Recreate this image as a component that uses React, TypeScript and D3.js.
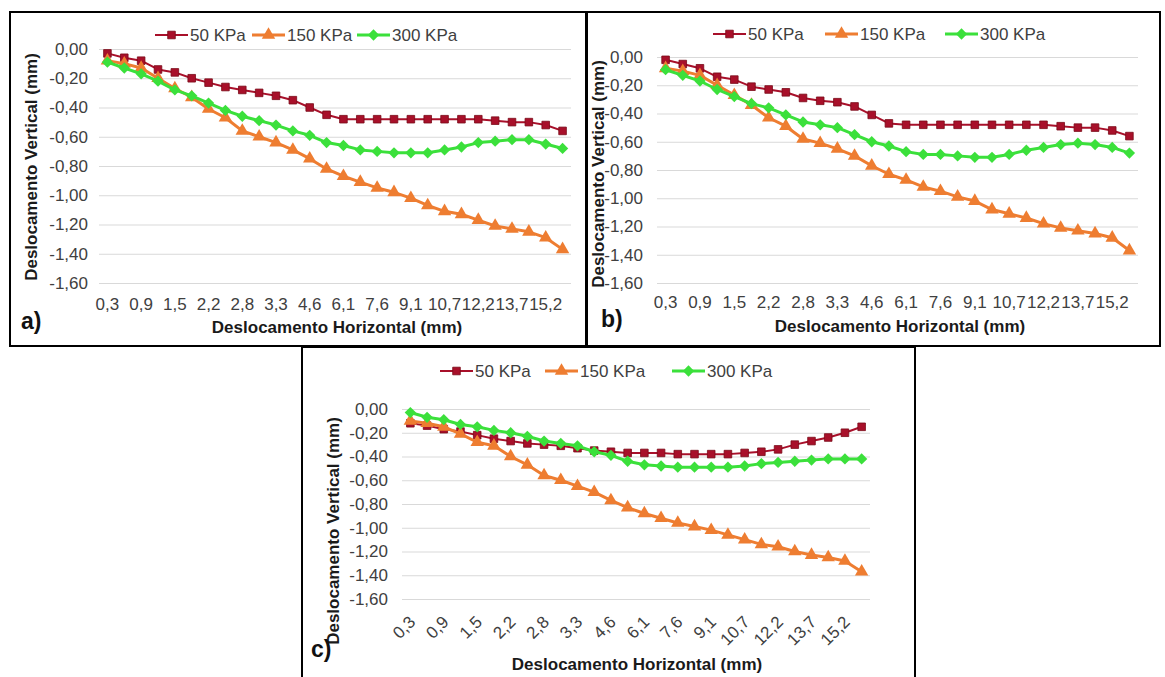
import * as d3 from "d3";
import React, { useEffect, useRef } from "react";

// horizontal displacement (mm) - excel only prints every 2nd label
const categories = [
  "0,3", "0,6", "0,9", "1,2", "1,5", "1,8", "2,2", "2,5", "2,8", "3,0",
  "3,3", "3,8", "4,6", "5,3", "6,1", "6,9", "7,6", "8,4", "9,1", "9,9",
  "10,7", "11,4", "12,2", "12,9", "13,7", "14,5", "15,2", "16,0",
];

const seriesNames = ["50 KPa", "150 KPa", "300 KPa"];
const yTicks = [0, -0.2, -0.4, -0.6, -0.8, -1.0, -1.2, -1.4, -1.6];

// panel a)
const a50 = [-0.03, -0.06, -0.08, -0.14, -0.16, -0.2, -0.23, -0.26, -0.28, -0.3, -0.32, -0.35, -0.4, -0.45, -0.48, -0.48, -0.48, -0.48, -0.48, -0.48, -0.48, -0.48, -0.48, -0.49, -0.5, -0.5, -0.52, -0.56];
const a150 = [-0.08, -0.1, -0.13, -0.2, -0.27, -0.33, -0.41, -0.47, -0.56, -0.6, -0.64, -0.69, -0.75, -0.82, -0.87, -0.91, -0.95, -0.98, -1.02, -1.07, -1.11, -1.13, -1.17, -1.21, -1.23, -1.25, -1.29, -1.37];
const a300 = [-0.09, -0.13, -0.17, -0.22, -0.28, -0.32, -0.37, -0.42, -0.46, -0.49, -0.52, -0.56, -0.59, -0.64, -0.66, -0.69, -0.7, -0.71, -0.71, -0.71, -0.69, -0.67, -0.64, -0.63, -0.62, -0.62, -0.65, -0.68];

// panel b)
const b50 = [-0.02, -0.05, -0.08, -0.14, -0.16, -0.21, -0.23, -0.25, -0.29, -0.31, -0.32, -0.35, -0.41, -0.47, -0.48, -0.48, -0.48, -0.48, -0.48, -0.48, -0.48, -0.48, -0.48, -0.49, -0.5, -0.5, -0.52, -0.56];
const b150 = [-0.08, -0.1, -0.13, -0.2, -0.27, -0.34, -0.43, -0.49, -0.58, -0.61, -0.65, -0.7, -0.77, -0.83, -0.87, -0.92, -0.95, -0.99, -1.02, -1.08, -1.11, -1.14, -1.18, -1.21, -1.23, -1.25, -1.28, -1.37];
const b300 = [-0.09, -0.13, -0.17, -0.23, -0.28, -0.33, -0.36, -0.41, -0.46, -0.48, -0.5, -0.55, -0.6, -0.63, -0.67, -0.69, -0.69, -0.7, -0.71, -0.71, -0.69, -0.66, -0.64, -0.62, -0.61, -0.62, -0.64, -0.68];

// panel c)
const c50 = [-0.12, -0.14, -0.17, -0.19, -0.22, -0.25, -0.27, -0.29, -0.3, -0.31, -0.33, -0.35, -0.36, -0.37, -0.37, -0.37, -0.38, -0.38, -0.38, -0.38, -0.37, -0.36, -0.34, -0.3, -0.27, -0.24, -0.2, -0.15];
const c150 = [-0.1, -0.12, -0.15, -0.21, -0.28, -0.31, -0.4, -0.47, -0.56, -0.6, -0.65, -0.7, -0.77, -0.83, -0.88, -0.92, -0.96, -0.99, -1.02, -1.06, -1.1, -1.14, -1.16, -1.2, -1.23, -1.25, -1.28, -1.37];
const c300 = [-0.03, -0.07, -0.09, -0.13, -0.15, -0.18, -0.2, -0.23, -0.27, -0.29, -0.31, -0.36, -0.39, -0.44, -0.47, -0.48, -0.49, -0.49, -0.49, -0.49, -0.48, -0.46, -0.45, -0.44, -0.43, -0.42, -0.42, -0.42];

const FONT = "'Liberation Sans', Arial, sans-serif";
const colors = ["#A8102A", "#EE7D31", "#3BE03B"];
const lineWidths = [2, 3, 3];

const ptBR = d3.formatLocale({ decimal: ",", thousands: ".", grouping: [3], currency: ["", ""], minus: "-" });
const fmt = ptBR.format(".2f");

// layout of the three panels (pixels)
const panels = [
  {
    tag: "a)", values: [a50, a150, a300],
    box: [10, 12, 586, 346], x0: 99, x1: 571, yTop: 49, yBottom: 283,
    yLabelRight: 88, yTitle: [31, 167], xTickPad: 15, rotate: false,
    xTitle: [337, 333], tagPos: [21, 329], legend: [155, 252, 357], legendY: 35,
  },
  {
    tag: "b)", values: [b50, b150, b300],
    box: [587, 12, 1160, 346], x0: 657, x1: 1138, yTop: 57, yBottom: 283,
    yLabelRight: 643, yTitle: [598, 174], xTickPad: 13, rotate: false,
    xTitle: [900, 332], tagPos: [601, 327], legend: [713, 825, 945], legendY: 34,
  },
  {
    tag: "c)", values: [c50, c150, c300],
    box: [302, 347, 915, 690], x0: 402, x1: 870, yTop: 409, yBottom: 599,
    yLabelRight: 388, yTitle: [333, 531], xTickPad: 0, rotate: true,
    xTitle: [637, 670], tagPos: [311, 657], legend: [440, 545, 672], legendY: 371,
  },
];

const markerPath = (k: number) => {
  if (k === 0) return d3.symbol(d3.symbolSquare, 58)();
  if (k === 1) return d3.symbol(d3.symbolTriangle, 78)();
  return d3.symbol(d3.symbolSquare, 64)();
};
const markerRot = (k: number) => (k === 2 ? 45 : 0);

function drawPanel(svg: any, P: any) {
  const g = svg.append("g");

  g.append("rect")
    .attr("x", P.box[0]).attr("y", P.box[1])
    .attr("width", P.box[2] - P.box[0]).attr("height", P.box[3] - P.box[1])
    .attr("fill", "#fff").attr("stroke", "#000").attr("stroke-width", 2);

  const x = d3.scaleBand().domain(categories).range([P.x0, P.x1]);
  const y = d3.scaleLinear().domain([-1.6, 0]).range([P.yBottom, P.yTop]);
  const cx = (c: string) => (x(c) as number) + x.bandwidth() / 2;

  // gridlines + y labels
  const yAxis = g.append("g")
    .attr("transform", `translate(${P.x0},0)`)
    .call(d3.axisLeft(y).tickValues(yTicks).tickFormat(fmt as any)
      .tickSize(-(P.x1 - P.x0)).tickPadding(P.x0 - P.yLabelRight));
  yAxis.select(".domain").remove();
  yAxis.selectAll("line").attr("stroke", "#D9D9D9").attr("stroke-width", 1);
  yAxis.selectAll("text").attr("fill", "#404040").style("font-size", "17px").style("font-family", FONT);

  // x labels, every second category
  const xAxis = g.append("g")
    .attr("transform", `translate(0,${P.yBottom})`)
    .call(d3.axisBottom(x).tickValues(categories.filter((_, i) => i % 2 === 0))
      .tickSize(0).tickPadding(P.xTickPad));
  xAxis.select(".domain").remove();
  const xt = xAxis.selectAll("text").attr("fill", "#404040").style("font-size", "17px").style("font-family", FONT);
  if (P.rotate) {
    xt.attr("x", 0).attr("y", 0).attr("dy", null)
      .attr("text-anchor", "end")
      .attr("transform", "translate(6,24) rotate(-45)");
  }

  // series: red, orange, green on top
  P.values.forEach((vals: number[], k: number) => {
    const pts = vals.map((v, i) => ({ c: categories[i], v }));
    const line = d3.line<any>().x(d => cx(d.c)).y(d => y(d.v));
    g.append("path").datum(pts)
      .attr("fill", "none").attr("stroke", colors[k])
      .attr("stroke-width", lineWidths[k]).attr("stroke-linejoin", "round")
      .attr("d", line);
    g.selectAll(".m" + k).data(pts).enter().append("path")
      .attr("class", "m" + k)
      .attr("d", markerPath(k))
      .attr("transform", (d: any) => `translate(${cx(d.c)},${y(d.v)}) rotate(${markerRot(k)})`)
      .attr("fill", colors[k])
      .attr("stroke", k === 0 ? "#7A0A18" : "none").attr("stroke-width", 0.8);
  });

  // legend
  seriesNames.forEach((name, k) => {
    const lx = P.legend[k];
    g.append("line").attr("x1", lx).attr("x2", lx + 33)
      .attr("y1", P.legendY).attr("y2", P.legendY)
      .attr("stroke", colors[k]).attr("stroke-width", lineWidths[k]);
    g.append("path").attr("d", markerPath(k))
      .attr("transform", `translate(${lx + 16.5},${P.legendY}) rotate(${markerRot(k)})`)
      .attr("fill", colors[k])
      .attr("stroke", k === 0 ? "#7A0A18" : "none").attr("stroke-width", 0.8);
    g.append("text").attr("x", lx + 35).attr("y", P.legendY + 6)
      .attr("fill", "#404040").style("font-size", "17px").style("font-family", FONT)
      .text(name);
  });

  // axis titles
  g.append("text")
    .attr("transform", `translate(${P.yTitle[0]},${P.yTitle[1]}) rotate(-90)`)
    .attr("text-anchor", "middle").attr("dy", "0.35em")
    .style("font-size", "17px").style("font-weight", "bold").style("font-family", FONT)
    .attr("fill", "#1a1a1a")
    .text("Deslocamento Vertical (mm)");
  g.append("text")
    .attr("x", P.xTitle[0]).attr("y", P.xTitle[1])
    .attr("text-anchor", "middle")
    .style("font-size", "17px").style("font-weight", "bold").style("font-family", FONT)
    .attr("fill", "#1a1a1a")
    .text("Deslocamento Horizontal (mm)");

  g.append("text")
    .attr("x", P.tagPos[0]).attr("y", P.tagPos[1])
    .style("font-size", "23px").style("font-weight", "bold").style("font-family", FONT)
    .attr("fill", "#111")
    .text(P.tag);
}

const App = () => {
  const svgRef = useRef<SVGSVGElement>(null);

  useEffect(() => {
    const svg = d3.select(svgRef.current);
    svg.selectAll("*").remove();
    svg.append("rect").attr("width", 1165).attr("height", 677).attr("fill", "#fff");
    panels.forEach(P => drawPanel(svg, P));
  }, []);

  return (
    <svg ref={svgRef} width={1165} height={677}
      style={{ position: "absolute", left: 0, top: 0, display: "block" }} />
  );
};

export default App;
